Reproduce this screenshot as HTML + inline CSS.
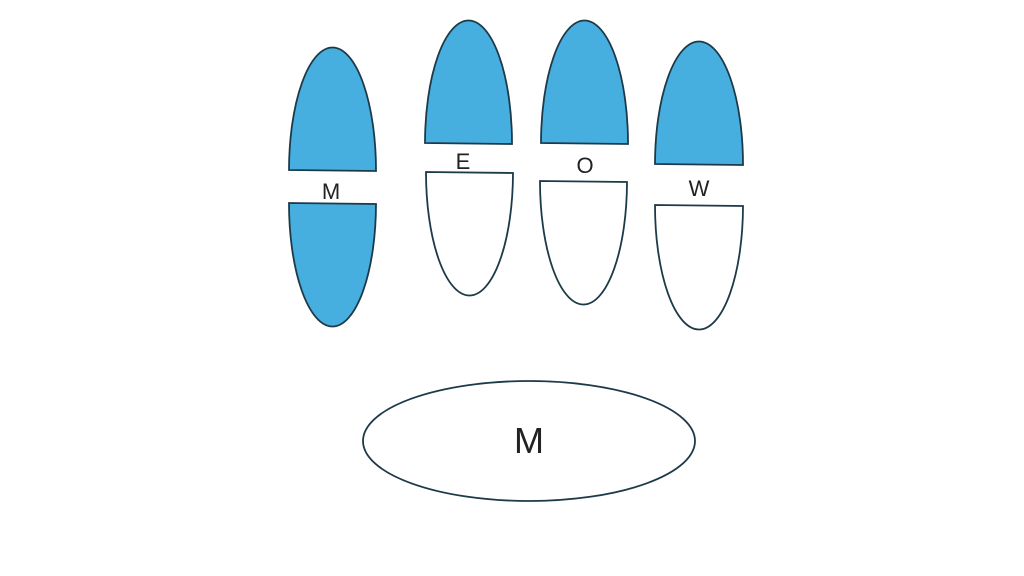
<!DOCTYPE html>
<html><head><meta charset="utf-8"><style>html,body{margin:0;padding:0;background:#fff;}svg{display:block}</style></head>
<body>
<svg width="1024" height="576" viewBox="0 0 1024 576" xmlns="http://www.w3.org/2000/svg">
<g stroke="#1d3a48" stroke-width="1.8">
<path d="M289,170 A43.5,123 0 0 1 376,171 Z" fill="#47afe0"/>
<path d="M289,203 L376,204 A43.5,123 0 0 1 289,203 Z" fill="#47afe0"/>
<path d="M425,143 A43.5,123 0 0 1 512,144 Z" fill="#47afe0"/>
<path d="M426,172 L513,173 A43.5,123 0 0 1 426,172 Z" fill="#fff"/>
<path d="M541,143 A43.5,123 0 0 1 628,144 Z" fill="#47afe0"/>
<path d="M540,181 L627,182 A43.5,123 0 0 1 540,181 Z" fill="#fff"/>
<path d="M655,164 A44,123 0 0 1 743,165 Z" fill="#47afe0"/>
<path d="M655,205 L743,206 A44,124 0 0 1 655,205 Z" fill="#fff"/>
<ellipse cx="529" cy="441" rx="166" ry="60" fill="#fff"/>
</g>
<g font-family="Liberation Sans, sans-serif" fill="#222" text-anchor="middle">
<text x="331" y="199" font-size="22">M</text>
<text x="463" y="169" font-size="22">E</text>
<text x="585" y="173" font-size="22">O</text>
<text x="699" y="196" font-size="22">W</text>
<text x="529" y="453" font-size="36">M</text>
</g>
</svg>
</body></html>
